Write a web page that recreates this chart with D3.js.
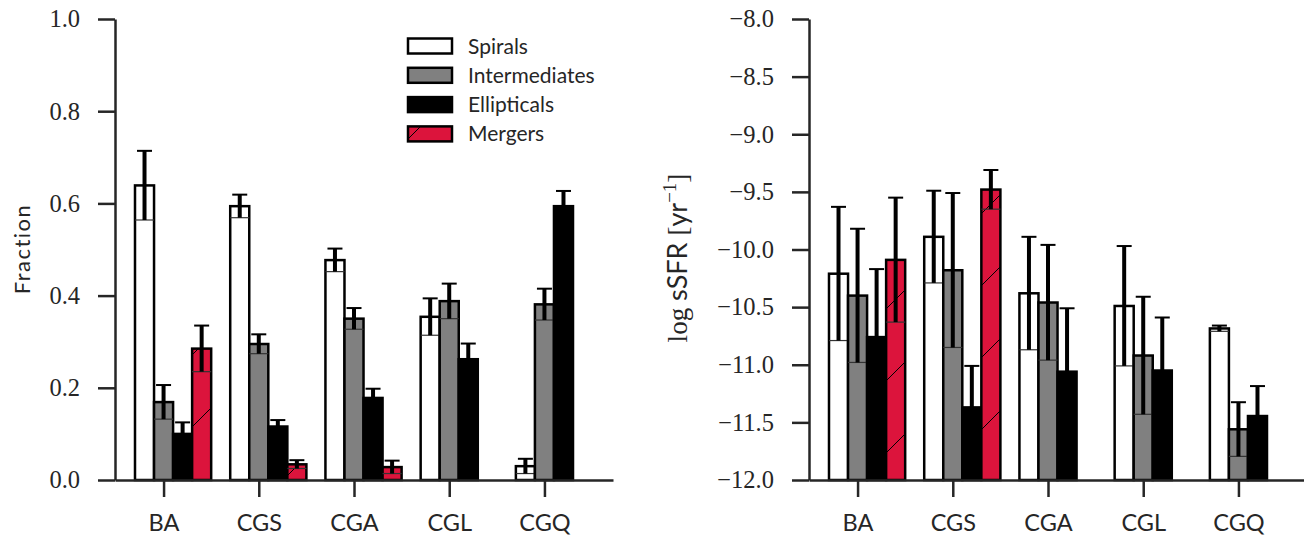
<!DOCTYPE html>
<html>
<head>
<meta charset="utf-8">
<script src="https://cdn.jsdelivr.net/npm/d3@7"></script>
<style>
body { margin: 0; background: #fff; }
</style>
</head>
<body>
<svg width="1304" height="537"></svg>
<script>

var categories = ["BA", "CGS", "CGA", "CGL", "CGQ"];
var seriesNames = ["Spirals", "Intermediates", "Ellipticals", "Mergers"];

// left panel: fraction of each morphology
var fracSpirals       = [0.639, 0.594, 0.477, 0.354, 0.030];
var fracSpiralsErr    = [0.075, 0.025, 0.025, 0.040, 0.016];
var fracInter         = [0.169, 0.295, 0.350, 0.388, 0.381];
var fracInterErr      = [0.037, 0.021, 0.023, 0.038, 0.034];
var fracEllip         = [0.100, 0.116, 0.178, 0.262, 0.594];
var fracEllipErr      = [0.025, 0.014, 0.020, 0.034, 0.033];
var fracMergers       = [0.285, 0.034, 0.028, null, null];
var fracMergersErr    = [0.050, 0.009, 0.014, null, null];

// right panel: log sSFR
var ssfrSpirals       = [-10.21, -9.89, -10.38, -10.49, -10.685];
var ssfrSpiralsErr    = [0.58, 0.40, 0.49, 0.52, 0.025];
var ssfrInter         = [-10.40, -10.18, -10.46, -10.92, -11.56];
var ssfrInterErr      = [0.58, 0.67, 0.50, 0.51, 0.235];
var ssfrEllip         = [-10.76, -11.37, -11.06, -11.05, -11.445];
var ssfrEllipErr      = [0.59, 0.36, 0.55, 0.46, 0.26];
var ssfrMergers       = [-10.09, -9.48, null, null, null];
var ssfrMergersErr    = [0.54, 0.17, null, null, null];

var fracTicks = [0.0, 0.2, 0.4, 0.6, 0.8, 1.0];
var ssfrTicks = [-12.0, -11.5, -11.0, -10.5, -10.0, -9.5, -9.0, -8.5, -8.0];

var fills = ["#ffffff", "#808080", "#000000", "url(#hatch)"];
var ink = "#262626";
var SERIF = "'Liberation Serif', 'Times New Roman', serif";
var SANS = "'Lato', sans-serif";
var barW = 0.2;

var svg = d3.select("svg");

// hatch for mergers
var pat = svg.append("defs").append("pattern")
    .attr("id", "hatch")
    .attr("patternUnits", "userSpaceOnUse")
    .attr("width", 72).attr("height", 72);
pat.append("rect").attr("width", 72).attr("height", 72).attr("fill", "crimson");
pat.append("path")
    .attr("d", "M-2,45L45,-2M41,74L74,41")
    .attr("stroke", "#000").attr("stroke-width", 1);

function drawPanel(p) {
  var x = d3.scaleLinear().domain([-0.51, 4.72]).range(p.xr);
  var y = d3.scaleLinear().domain(p.yd).range([480, 19]);
  var base = p.yd[0];

  p.series.forEach(function(s, k) {
    var rows = categories.map(function(c, i) {
      return {i: i, v: s.v[i], e: s.e[i]};
    }).filter(function(d) { return d.v != null; });

    var left = function(d) { return x(d.i + (k - 1.5) * barW); };
    var bw = x(barW) - x(0);

    svg.selectAll(null).data(rows).enter().append("rect")
      .attr("x", left)
      .attr("y", function(d) { return y(d.v); })
      .attr("width", bw)
      .attr("height", function(d) { return y(base) - y(d.v); })
      .attr("fill", fills[k])
      .attr("stroke", "#000")
      .attr("stroke-width", 2.5);

    // lower error line across the bar
    svg.selectAll(null).data(rows).enter().append("line")
      .attr("x1", left)
      .attr("x2", function(d) { return left(d) + bw; })
      .attr("y1", function(d) { return y(d.v - d.e); })
      .attr("y2", function(d) { return y(d.v - d.e); })
      .attr("stroke", k == 2 ? "#000" : "#333").attr("stroke-width", 1.2);

    svg.selectAll(null).data(rows).enter().append("line")
      .attr("x1", function(d) { return left(d) + bw / 2; })
      .attr("x2", function(d) { return left(d) + bw / 2; })
      .attr("y1", function(d) { return y(d.v - d.e); })
      .attr("y2", function(d) { return y(d.v + d.e); })
      .attr("stroke", "#000").attr("stroke-width", 4);

    svg.selectAll(null).data(rows).enter().append("line")
      .attr("x1", function(d) { return left(d) + bw / 2 - 7.5; })
      .attr("x2", function(d) { return left(d) + bw / 2 + 7.5; })
      .attr("y1", function(d) { return y(d.v + d.e); })
      .attr("y2", function(d) { return y(d.v + d.e); })
      .attr("stroke", "#000").attr("stroke-width", 2);
  });

  var ax = svg.append("g")
      .attr("transform", "translate(0,480)")
      .call(d3.axisBottom(x).tickValues([0, 1, 2, 3, 4])
        .tickFormat(function(i) { return categories[i]; })
        .tickSize(17).tickSizeOuter(0).tickPadding(17));
  ax.selectAll("text")
    .style("font-family", SANS).style("font-size", "23.5px").style("fill", ink);

  var ay = svg.append("g")
      .attr("transform", "translate(" + p.xr[0] + ",0)")
      .call(d3.axisLeft(y).tickValues(p.ticks).tickFormat(d3.format(".1f"))
        .tickSize(17).tickSizeOuter(0).tickPadding(18));
  ay.selectAll("text")
    .style("font-family", SERIF).style("font-size", "24.5px").style("fill", ink);

  svg.selectAll(".domain, .tick line").attr("stroke", ink).attr("stroke-width", 2.5);
}

drawPanel({
  xr: [115, 613], yd: [0, 1], ticks: fracTicks,
  series: [
    {v: fracSpirals, e: fracSpiralsErr},
    {v: fracInter, e: fracInterErr},
    {v: fracEllip, e: fracEllipErr},
    {v: fracMergers, e: fracMergersErr}
  ]
});

drawPanel({
  xr: [809, 1307], yd: [-12, -8], ticks: ssfrTicks,
  series: [
    {v: ssfrSpirals, e: ssfrSpiralsErr},
    {v: ssfrInter, e: ssfrInterErr},
    {v: ssfrEllip, e: ssfrEllipErr},
    {v: ssfrMergers, e: ssfrMergersErr}
  ]
});

// axis titles
svg.append("text")
  .attr("transform", "translate(30,249) rotate(-90)")
  .attr("text-anchor", "middle")
  .style("font-family", SANS).style("font-size", "22px").style("fill", ink)
  .attr("letter-spacing", 1.5)
  .text("Fraction");

var yl = svg.append("text")
  .attr("transform", "translate(687,258) rotate(-90)")
  .attr("text-anchor", "middle")
  .style("font-size", "27px").style("fill", ink);
yl.append("tspan").style("font-family", SERIF).text("log");
yl.append("tspan").style("font-family", SANS).text(" sSFR ");
yl.append("tspan").style("font-family", SERIF).text("[");
yl.append("tspan").style("font-family", SANS).text("yr");
yl.append("tspan").style("font-family", SERIF).style("font-size", "19px")
  .attr("dy", -11).text("\u22121");
yl.append("tspan").style("font-family", SERIF).attr("dy", 11).text("]");

// legend
var legend = svg.append("g");
seriesNames.forEach(function(name, k) {
  var cy = 46 + k * 29.3;
  legend.append("rect")
    .attr("x", 408).attr("y", cy - 7.5)
    .attr("width", 44).attr("height", 15)
    .attr("fill", fills[k])
    .attr("stroke", "#000").attr("stroke-width", 2.5);
  legend.append("text")
    .attr("x", 468).attr("y", cy)
    .attr("dy", "0.36em")
    .style("font-family", SANS).style("font-size", "21px").style("fill", ink)
    .text(name);
});

</script>
</body>
</html>
